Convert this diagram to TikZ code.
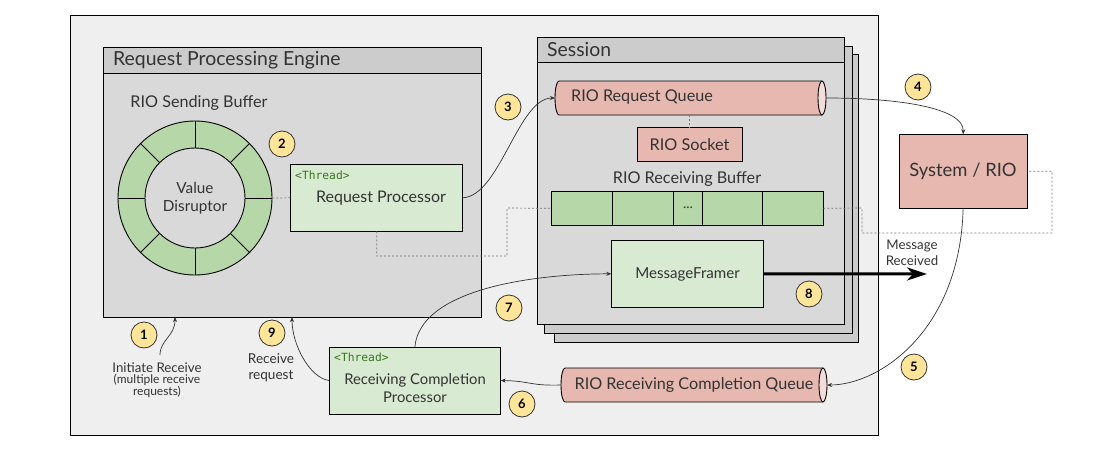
\documentclass[tikz,border=0pt]{standalone}
\usepackage{fontspec}
\setmainfont{Lato}
\newfontfamily\monof{DejaVu Sans Mono}
\usetikzlibrary{arrows.meta}
\definecolor{outerbg}{HTML}{EFEFEF}
\definecolor{bodybg}{HTML}{D9D9D9}
\definecolor{headbg}{HTML}{CCCCCC}
\definecolor{ringgreen}{HTML}{B6D7A8}
\definecolor{lightgreen}{HTML}{D9EAD3}
\definecolor{rose}{HTML}{E6B8AF}
\definecolor{roseface}{HTML}{F3DDDA}
\definecolor{badge}{HTML}{FFE599}
\definecolor{threadgreen}{HTML}{38761D}
\definecolor{ink}{HTML}{333333}
\definecolor{dotgray}{HTML}{777777}
\tikzset{
  box/.style={draw=black, line width=0.9pt, inner sep=0pt, outer sep=0pt, anchor=north west},
  txt/.style={inner sep=0pt, text=ink},
  hdrfont/.style={font=\fontsize{19.4}{22}\selectfont},
  midfont/.style={font=\fontsize{16.2}{18}\selectfont},
  smfont/.style={font=\fontsize{13.6}{16}\selectfont},
  thread/.style={inner sep=0pt, anchor=west, text=threadgreen, font=\monof\fontsize{11.3}{12}\selectfont},
  badgenode/.style={circle, draw=ink, fill=badge, line width=0.8pt, minimum size=26pt, inner sep=0pt, text=black, font=\fontsize{13}{13}\selectfont\bfseries},
  flow/.style={draw=ink, line width=0.7pt, -{Stealth[length=5pt,width=4pt]}},
  dotline/.style={draw=dotgray, line width=0.7pt, dash pattern=on 2pt off 2pt},
}
\begin{document}
\begin{tikzpicture}[x=1pt,y=-1pt]
\useasboundingbox (0,0) rectangle (1106,450);
% outer frame
\node[box, fill=outerbg, minimum width=808pt, minimum height=420pt] (outer) at (70,15) {};
% session stack
\node[box, fill=headbg, minimum width=304pt, minimum height=288pt] (sess3) at (554,54) {};
\node[box, fill=headbg, minimum width=308pt, minimum height=287pt] (sess2) at (544,46) {};
\node[box, fill=bodybg, minimum width=307pt, minimum height=287pt] (sess) at (537,37) {};
\node[box, fill=headbg, minimum width=307pt, minimum height=25pt] (sesshead) at (537,37) {};
\node[txt, hdrfont, anchor=west] (sesstitle) at (547,50) {Session};
% request processing engine
\node[box, fill=bodybg, minimum width=378pt, minimum height=270pt] (rpe) at (103,47) {};
\node[box, fill=headbg, minimum width=378pt, minimum height=26pt] (rpehead) at (103,47) {};
\node[txt, hdrfont, anchor=west] (rpetitle) at (113,60) {Request Processing Engine};
% sending buffer ring
\node[txt, midfont] (sbtitle) at (199,103) {RIO Sending Buffer};
\node[circle, draw=black, line width=0.9pt, fill=ringgreen, minimum size=154pt, inner sep=0pt] (ring) at (195,198) {};
\node[circle, draw=black, line width=0.9pt, fill=bodybg, minimum size=100pt, inner sep=0pt, text=ink, font=\fontsize{15.3}{18}\selectfont, align=center] (vd) at (195,198) {Value\\Disruptor};
\foreach \a in {0,45,...,315} \draw[line width=0.9pt] (vd.\a) -- (ring.\a);
% request processor
\node[box, fill=lightgreen, minimum width=172pt, minimum height=67pt] (rp) at (290.7,164.3) {};
\node[thread] (rpthread) at (295,175) {<Thread>};
\node[txt, font=\fontsize{16}{18}\selectfont] (rptext) at (381,198) {Request Processor};
% RIO request queue (cylinder)
\fill[rose] (822,81) -- (559,81) arc[start angle=90, end angle=270, x radius=4pt, y radius=17pt] -- (822,115) -- cycle;
\draw[line width=0.9pt] (822,81) -- (559,81) arc[start angle=90, end angle=270, x radius=4pt, y radius=17pt] -- (822,115);
\draw[line width=0.9pt, fill=roseface] (822,98) ellipse [x radius=4pt, y radius=17pt];
\node[inner sep=0pt, outer sep=0pt, minimum width=271pt, minimum height=34pt, anchor=west] (rq) at (555,98) {};
\node[txt, midfont, anchor=west] (rqtext) at (571,97) {RIO Request Queue};
% RIO socket
\node[box, fill=rose, minimum width=105pt, minimum height=34pt] (sock) at (637,127.3) {};
\node[txt, midfont] (socktext) at (689.5,144.3) {RIO Socket};
% receiving buffer
\node[txt, midfont] (rbtitle) at (687,179) {RIO Receiving Buffer};
\node[box, fill=ringgreen, minimum width=271.6pt, minimum height=33.3pt] (rb) at (551.7,191.7) {};
\foreach \xx in {612.3,673.7,702.3,762.3} \draw[line width=0.9pt] (\xx,191.7) -- (\xx,225);
\node[txt, font=\fontsize{14}{14}\selectfont] (dots) at (688,208) {...};
% message framer
\node[box, fill=lightgreen, minimum width=152.4pt, minimum height=67pt] (mf) at (611.3,240.3) {};
\node[txt, font=\fontsize{15.1}{18}\selectfont] (mftext) at (687.5,274) {MessageFramer};
% system / RIO
\node[box, fill=rose, minimum width=128.3pt, minimum height=74pt] (sys) at (899,134.3) {};
\node[txt, font=\fontsize{18.4}{20}\selectfont] (systext) at (963,171) {System / RIO};
% RIO receiving completion queue (cylinder)
\fill[rose] (823,368) -- (565,368) arc[start angle=90, end angle=270, x radius=4pt, y radius=17pt] -- (823,402) -- cycle;
\draw[line width=0.9pt] (823,368) -- (565,368) arc[start angle=90, end angle=270, x radius=4pt, y radius=17pt] -- (823,402);
\draw[line width=0.9pt, fill=roseface] (823,385) ellipse [x radius=4pt, y radius=17pt];
\node[inner sep=0pt, outer sep=0pt, minimum width=266pt, minimum height=34pt, anchor=west] (rcq) at (561,385) {};
\node[txt, midfont] (rcqtext) at (694,385) {RIO Receiving Completion Queue};
% receiving completion processor
\node[box, fill=lightgreen, minimum width=171.7pt, minimum height=67pt] (rcp) at (329,347) {};
\node[thread] (rcpthread) at (334,357) {<Thread>};
\node[txt, font=\fontsize{14.8}{18}\selectfont, align=center] (rcptext) at (415,388) {Receiving Completion\\Processor};
% side labels
\node[txt, align=center] (initxt) at (157,380) {{\fontsize{13.3}{16}\selectfont Initiate Receive}\\[-1pt]{\fontsize{12}{13.5}\selectfont (multiple receive}\\{\fontsize{12}{13.5}\selectfont requests)}};
\node[txt, smfont, align=center] (rrtext) at (271,368) {Receive\\request};
\node[txt, font=\fontsize{13.3}{16}\selectfont, align=center] (mrtext) at (912,253) {Message\\Received};
% badges
\node[badgenode] (b1) at (144,335) {1};
\node[badgenode] (b2) at (282,144) {2};
\node[badgenode] (b3) at (508,107) {3};
\node[badgenode] (b4) at (918,87) {4};
\node[badgenode] (b5) at (914,367) {5};
\node[badgenode] (b6) at (522,404) {6};
\node[badgenode] (b7) at (509,308) {7};
\node[badgenode] (b8) at (809,294) {8};
\node[badgenode] (b9) at (272,333) {9};
% coordinates on RPE bottom edge and label ends
\coordinate (in1) at (175,317);
\coordinate (in9) at (292,317);
\coordinate (ini) at (160,355);
\coordinate (mrend) at (927,274);
\coordinate (d1) at (376.7,256);
\coordinate (d2) at (507,256);
\coordinate (d3) at (507,208);
\coordinate (d4) at (862,208);
\coordinate (d5) at (862,233);
\coordinate (d6) at (1052,233);
\coordinate (d7) at (1052,171.3);
% dotted associations
\draw[dotline] (ring.east) -- (rp.west);
\draw[dotline] (sock.north |- rq.south) -- (sock.north);
\draw[dotline] (rp.south) -- (d1) -- (d2) -- (d3) -- (rb.west);
\draw[dotline] (rb.east) -- (d4) -- (d5) -- (d6) -- (d7) -- (sys.east);
% flows
\draw[flow] (rp.east) .. controls (500,196) and (518,98) .. (rq.west);
\draw[flow] (rq.east) .. controls (900,98) and (964,108) .. (sys.north);
\draw[flow] (sys.south) .. controls (960,330) and (880,385) .. (rcq.east);
\draw[flow] (rcq.west) .. controls (530,386) and (530,381) .. (rcp.east);
\draw[flow] (rcp.north) .. controls (420,290) and (530,274) .. (mf.west);
\draw[flow] (rcp.west) .. controls (310,378) and (292,345) .. (in9);
\draw[flow] (ini) .. controls (160,340) and (175,336) .. (in1);
\draw[black, line width=3pt, -{Stealth[length=20pt,width=13pt,inset=6pt]}] (mf.east) -- (mrend);
\end{tikzpicture}
\end{document}
